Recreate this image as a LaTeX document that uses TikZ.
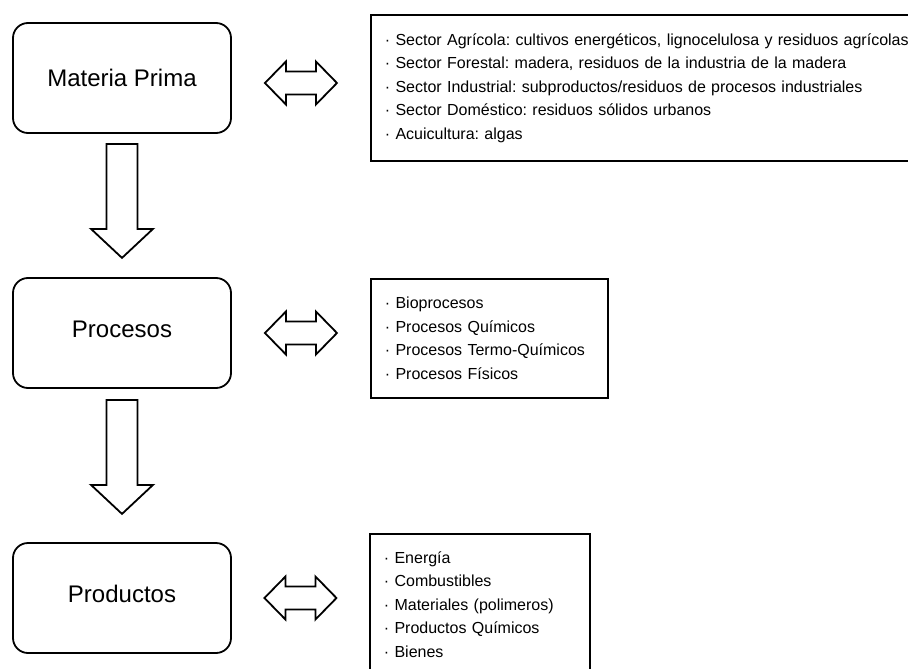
\documentclass[tikz,border=0pt]{standalone}
\usepackage{fontspec}
\setmainfont{Liberation Sans}
\usetikzlibrary{calc}
\frenchspacing
\begin{document}
\begin{tikzpicture}[x=1pt,y=-1pt,
  stage/.style={draw, line width=1.8pt, rounded corners=15pt, minimum width=218pt,
    minimum height=110pt, inner sep=0pt, font=\fontsize{24}{28}\selectfont},
  listbox/.style={draw, line width=1.8pt, align=left, anchor=north west,
    inner xsep=14pt, inner ysep=0pt, font=\fontsize{16}{23.5}\selectfont\frenchspacing},
  blockarrow/.style={draw, line width=1.8pt, fill=white, miter limit=10},
  downarr/.pic={\path[blockarrow] (-15.5,0) -- (15.5,0) -- (15.5,85) -- (31,85)
    -- (0,114) -- (-31,85) -- (-15.5,85) -- cycle;},
  duoarr/.pic={\path[blockarrow] (-36,0) -- (-15,-21.5) -- (-15,-11.5) -- (15,-11.5)
    -- (15,-21.5) -- (36,0) -- (15,21.5) -- (15,11.5) -- (-15,11.5) -- (-15,21.5) -- cycle;}
]
\useasboundingbox (0,0) rectangle (908,669);
\clip (0,0) rectangle (908,669);

% stage boxes
\node[stage] (mp) at (122,78) {Materia Prima};
\node[stage] (pr) at (122,333) {\raisebox{8pt}{Procesos}};
\node[stage] (pd) at (122,598) {\raisebox{8pt}{Productos}};

% list boxes
\node[listbox, text width=532pt, minimum height=146pt] (l1) at (370,14) {%
· Sector Agrícola: cultivos energéticos, lignocelulosa y residuos agrícolas\\
· Sector Forestal: madera, residuos de la industria de la madera\\
· Sector Industrial: subproductos/residuos de procesos industriales\\
· Sector Doméstico: residuos sólidos urbanos\\
· Acuicultura: algas};
\node[listbox, text width=209pt, minimum height=119pt] (l2) at (370,278) {%
· Bioprocesos\\
· Procesos Químicos\\
· Procesos Termo-Químicos\\
· Procesos Físicos};
\node[listbox, text width=192pt, minimum height=141pt] (l3) at (369,533) {%
· Energía\\
· Combustibles\\
· Materiales (polimeros)\\
· Productos Químicos\\
· Bienes};

% down arrows
\pic at ($(mp.south)+(0,10)$) {downarr};
\pic at ($(pr.south)+(0,11)$) {downarr};

% double arrows
\pic at ($(mp.east)!0.5!(mp.east -| l1.west)+(0,5)$) {duoarr};
\pic at ($(pr.east)!0.5!(pr.east -| l2.west)$) {duoarr};
\pic at ($(pd.east)!0.5!(pd.east -| l3.west)$) {duoarr};
\end{tikzpicture}
\end{document}
